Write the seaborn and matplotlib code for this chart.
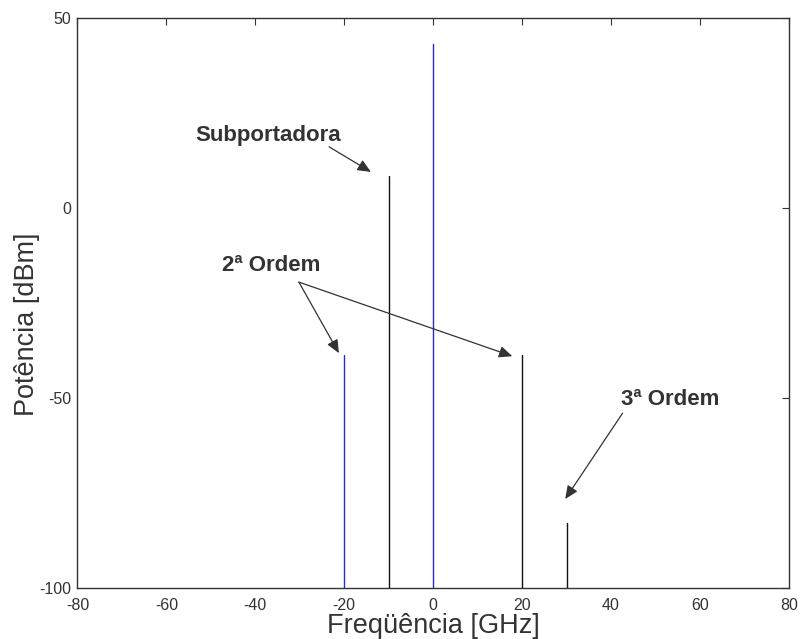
import matplotlib
matplotlib.use("Agg")
import matplotlib.pyplot as plt
import seaborn as sns
import pandas as pd

freq = [-20, -10, 0, 20, 30]
power = [-38.6, 8.4, 43.2, -38.6, -83.0]
group = ["blue", "black", "blue", "black", "black"]
floor_val = -100
xticks = [-80, -60, -40, -20, 0, 20, 40, 60, 80]
yticks = [-100, -50, 0, 50]

rows = []
for f, p, g in zip(freq, power, group):
    rows.append({"f": f, "p": floor_val, "g": g, "u": f})
    rows.append({"f": f, "p": p, "g": g, "u": f})
df = pd.DataFrame(rows)

sns.set_style("white")
plt.rcParams['font.family'] = ['Liberation Sans', 'DejaVu Sans']
plt.rcParams['axes.unicode_minus'] = False

fig = plt.figure(figsize=(8.02, 6.39), dpi=100)
ax = fig.add_axes([0.0966, 0.0798, 0.887, 0.892])
sns.lineplot(data=df, x="f", y="p", hue="g", units="u", estimator=None,
             palette={"blue": "#2a2ad0", "black": "#111111"}, lw=1.0,
             legend=False, ax=ax, sort=False)

ax.set_xlim(-80, 80)
ax.set_ylim(-100, 50)
ax.set_xticks(xticks)
ax.set_yticks(yticks)
ax.tick_params(direction='in', length=5, width=0.8, top=True, right=True,
               labelsize=11.5, colors='#333333')
ax.tick_params(axis='x', pad=7)
ax.tick_params(axis='y', pad=4.5)
for s in ax.spines.values():
    s.set_visible(True)
    s.set_color('#333333')
    s.set_linewidth(1.0)
ax.set_xlabel("Freqüência [GHz]", fontsize=19.5, color='#333333')
ax.set_ylabel("Potência [dBm]", fontsize=19.5, color='#333333')
ax.xaxis.set_label_coords(0.5, -0.044)
ax.yaxis.set_label_coords(-0.052, 0.463)

ap = dict(arrowstyle='-|>,head_length=0.5,head_width=0.22', color='#333333',
          lw=0.9, mutation_scale=16, shrinkA=0, shrinkB=0)
tk = dict(fontsize=16, fontweight='bold', color='#333333', ha='center', va='center')

ax.text(-37.0, 19.2, "Subportadora", **tk)
ax.text(-36.5, -15.0, "2ª Ordem", **tk)
ax.text(53.2, -50.3, "3ª Ordem", **tk)

ax.annotate("", xy=(-14.0, 9.5), xytext=(-23.4, 16.1), arrowprops=ap)
ax.annotate("", xy=(-21.2, -38.2), xytext=(-30.2, -19.5), arrowprops=ap)
ax.annotate("", xy=(17.8, -39.0), xytext=(-30.2, -19.5), arrowprops=ap)
ax.annotate("", xy=(29.7, -76.6), xytext=(42.6, -54.0), arrowprops=ap)

fig.savefig("out.png", dpi=100)
